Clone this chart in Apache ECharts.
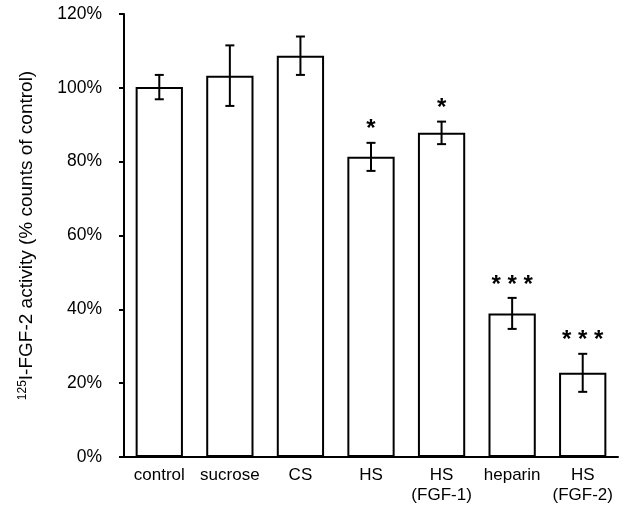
<!DOCTYPE html>
<html>
<head>
<meta charset="utf-8">
<script src="https://cdn.jsdelivr.net/npm/echarts@6/dist/echarts.min.js"></script>
<style>html,body{margin:0;padding:0;background:#fff}#c{width:630px;height:513px}</style>
</head>
<body>
<div id="c"></div>
<script>
const categories = ['control', 'sucrose', 'CS', 'HS', 'HS\n(FGF-1)', 'heparin', 'HS\n(FGF-2)'];
const means = [100.2, 103.3, 108.7, 81.3, 87.8, 38.9, 22.8];
const errors = [3.3, 8.2, 5.2, 3.8, 3.05, 4.2, 5.15];
const stars = ['', '', '', '*', '*', '* * *', '* * *'];
const yTicks = [0, 20, 40, 60, 80, 100, 120];

const font = 'Liberation Sans, Arial, sans-serif';
const chart = echarts.init(document.getElementById('c'));
const errData = means.map((m, i) => [i, m - errors[i], m + errors[i]]);

chart.setOption({
  animation: false,
  grid: { left: 124, right: 12, top: 14, bottom: 56 },
  xAxis: {
    type: 'category',
    data: categories,
    axisLine: { lineStyle: { color: '#000', width: 2 } },
    axisTick: { alignWithLabel: true, length: 6, lineStyle: { color: '#000', width: 2 } },
    axisLabel: { color: '#000', fontFamily: font, fontSize: 17, margin: 8, lineHeight: 20, interval: 0 }
  },
  yAxis: {
    type: 'value',
    min: yTicks[0], max: yTicks[yTicks.length - 1], interval: 20,
    splitLine: { show: false },
    axisLine: { show: true, lineStyle: { color: '#000', width: 2 } },
    axisTick: { show: true, length: 5, lineStyle: { color: '#000', width: 2 } },
    axisLabel: { color: '#000', fontFamily: font, fontSize: 17.5, margin: 22, formatter: v => v + '%' },
    name: '{sup|125}{n|I-FGF-2 activity (% counts of control)}',
    nameLocation: 'middle',
    nameGap: 88,
    nameTextStyle: {
      rich: {
        sup: { fontFamily: font, fontSize: 12, color: '#000', verticalAlign: 'top', padding: [0, 0, 7, 0] },
        n: { fontFamily: font, fontSize: 19, color: '#000' }
      }
    }
  },
  series: [
    {
      type: 'bar',
      data: means,
      barCategoryGap: '33%',
      itemStyle: { color: '#fff', borderColor: '#000', borderWidth: 2 }
    },
    {
      type: 'custom',
      data: errData,
      z: 10,
      renderItem: function (params, api) {
        const i = api.value(0);
        const lo = api.coord([i, api.value(1)]);
        const hi = api.coord([i, api.value(2)]);
        const hw = 4.5;
        const st = { stroke: '#000', lineWidth: 2 };
        const children = [
          { type: 'line', shape: { x1: hi[0], y1: hi[1], x2: lo[0], y2: lo[1] }, style: st },
          { type: 'line', shape: { x1: hi[0] - hw, y1: hi[1], x2: hi[0] + hw, y2: hi[1] }, style: st },
          { type: 'line', shape: { x1: lo[0] - hw, y1: lo[1], x2: lo[0] + hw, y2: lo[1] }, style: st }
        ];
        const s = stars[params.dataIndex];
        if (s) {
          children.push({
            type: 'text',
            x: hi[0], y: hi[1] - 1,
            style: { text: s, fill: '#000', font: 'bold 24px ' + font, textAlign: 'center', textVerticalAlign: 'bottom' }
          });
        }
        return { type: 'group', children: children };
      }
    }
  ]
});
</script>
</body>
</html>
